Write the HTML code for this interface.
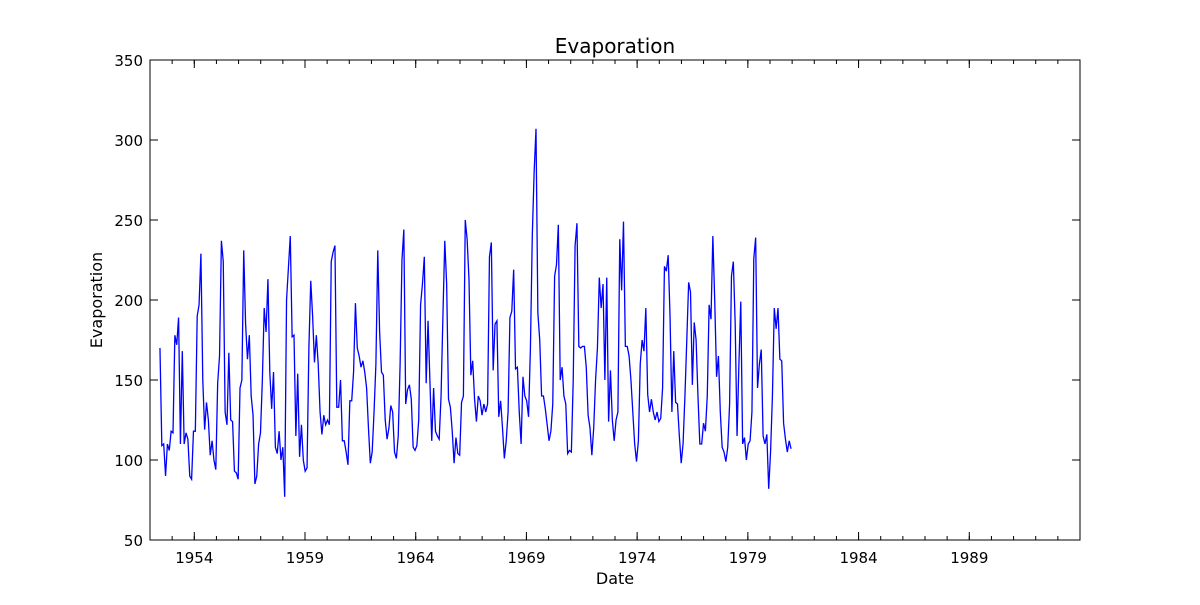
<!DOCTYPE html>
<html><head><meta charset="utf-8"><style>
body{margin:0;background:#fff;}
svg text{font-family:"DejaVu Sans","Liberation Sans",sans-serif;}
</style></head><body>
<svg id="chart" width="1200" height="600" xmlns="http://www.w3.org/2000/svg">
<rect width="1200" height="600" fill="#fff"/>
<g id="ticks"></g>
<path id="series" fill="none" stroke="#0000ff" stroke-width="1.3"/>
<rect x="150" y="60" width="930" height="480" fill="none" stroke="#000" stroke-width="1"/>
<text x="615" y="53" font-size="20" text-anchor="middle">Evaporation</text>
<text x="615" y="584" font-size="16" text-anchor="middle">Date</text>
<text x="102" y="300" font-size="16" text-anchor="middle" transform="rotate(-90 102 300)">Evaporation</text>
</svg>
<script>
const startDate = 1952.45, endDate = 1980.95;
const values = [
170,109,110,90,110,106,118,
117,178,172,189,110,168,110,117,113,90,88,118,
118,190,197,229,150,119,136,125,103,112,100,94,
148,165,237,224,130,122,167,125,124,93,92,88,
145,150,231,185,163,178,140,128,85,90,110,117,
150,195,180,213,155,132,155,108,104,118,100,108,
77,200,220,240,177,178,115,154,102,122,100,93,
95,170,212,190,161,178,160,130,116,128,122,125,
122,224,230,234,133,133,150,112,112,105,97,137,
137,155,198,170,165,158,162,155,145,120,98,105,
130,160,231,180,155,153,125,113,120,134,130,105,
101,115,160,225,244,135,144,147,138,108,106,109,
125,197,210,227,148,187,150,112,145,118,115,113,
140,190,237,210,138,133,118,98,114,104,103,136,
140,250,238,213,153,162,138,124,140,137,128,135,
130,135,227,236,156,185,187,127,137,120,101,112,
130,189,193,219,157,158,130,110,152,140,137,127,
170,240,280,307,192,175,140,140,132,122,112,118,
135,215,222,247,150,158,140,135,104,106,105,150,
234,248,171,170,171,171,158,128,120,103,120,150,
170,214,195,210,150,214,124,156,125,112,125,130,
238,206,249,171,171,165,150,130,110,99,112,160,
175,168,195,141,130,138,130,125,130,124,126,145,
221,218,228,190,130,168,136,135,115,98,110,140,
175,211,205,147,186,175,140,110,110,123,118,140,
197,188,240,200,152,165,130,108,105,99,108,135,
215,224,185,115,160,199,110,114,100,110,112,130,
226,239,145,160,169,115,110,116,82,105,140,195,
182,195,163,162,123,113,105,112,107
];
const xTickLabels = [1954,1959,1964,1969,1974,1979,1984,1989];
const yTickLabels = [50,100,150,200,250,300,350];

const X0=150,X1=1080,Y0=540,Y1=60,XMIN=1952,XMAX=1994,YMIN=50,YMAX=350;
const xs = t => X0+(t-XMIN)/(XMAX-XMIN)*(X1-X0);
const ys = v => Y0-(v-YMIN)/(YMAX-YMIN)*(Y0-Y1);
const NS="http://www.w3.org/2000/svg";
let d="";
const step=(endDate-startDate)/(values.length-1);
values.forEach((v,i)=>{
  const t = startDate + i*step;
  d += (i?"L":"M")+xs(t).toFixed(2)+","+ys(v).toFixed(2);
});
document.getElementById('series').setAttribute('d',d);
const g=document.getElementById('ticks');
function line(x1,y1,x2,y2){const l=document.createElementNS(NS,'line');
l.setAttribute('x1',x1);l.setAttribute('y1',y1);l.setAttribute('x2',x2);l.setAttribute('y2',y2);
l.setAttribute('stroke','#000');l.setAttribute('stroke-width','1');


g.appendChild(l);}
function text(x,y,s,anchor,name){const t=document.createElementNS(NS,'text');
t.setAttribute('x',x);t.setAttribute('y',y);t.setAttribute('font-size','15');t.setAttribute('text-anchor',anchor);
t.textContent=s;


g.appendChild(t);}
for(let yr=XMIN+1;yr<XMAX;yr++){const x=xs(yr);line(x,Y0,x,Y0-4);line(x,Y1,x,Y1+4);}
xTickLabels.forEach(yr=>{const x=xs(yr);line(x,Y0,x,Y0-8);line(x,Y1,x,Y1+8);text(x,Y0+23,String(yr),'middle','x-tick-label');});
yTickLabels.forEach(v=>{const y=ys(v);line(X0,y,X0+8,y);line(X1,y,X1-8,y);text(X0-7,y+6,String(v),'end','y-tick-label');});
</script>
</body></html>
